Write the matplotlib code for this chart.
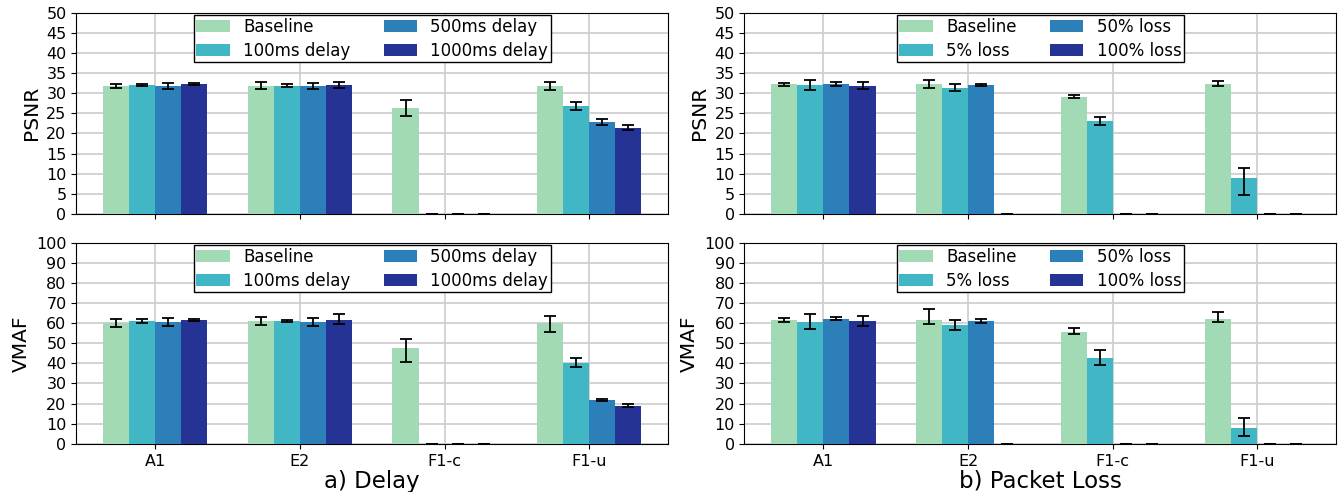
import numpy as np
import matplotlib.pyplot as plt

# categorias e series
categorias = ["A1", "E2", "F1-c", "F1-u"]
cores = ["#a1dab4", "#41b6c4", "#2c7fb8", "#253494"]

series_delay = ["Baseline", "100ms delay", "500ms delay", "1000ms delay"]
series_loss = ["Baseline", "5% loss", "50% loss", "100% loss"]

# PSNR - delay (linhas = series, colunas = categorias)
psnr_delay = [
    [31.8, 31.9, 26.4, 31.8],
    [32.1, 31.9, 0.0, 26.8],
    [31.8, 31.8, 0.0, 22.9],
    [32.3, 32.1, 0.0, 21.4],
]
psnr_delay_lo = [
    [0.6, 0.8, 2.0, 0.9],
    [0.3, 0.4, 0.0, 0.9],
    [0.7, 0.8, 0.0, 0.7],
    [0.2, 0.7, 0.0, 0.6],
]
psnr_delay_hi = psnr_delay_lo

# VMAF - delay
vmaf_delay = [
    [60.0, 61.1, 47.8, 60.0],
    [61.2, 61.2, 0.0, 40.3],
    [60.6, 60.6, 0.0, 21.9],
    [61.8, 61.8, 0.0, 19.0],
]
vmaf_delay_lo = [
    [1.9, 1.9, 7.3, 4.6],
    [1.0, 0.5, 0.0, 2.3],
    [1.9, 1.8, 0.0, 0.4],
    [0.5, 2.0, 0.0, 0.6],
]
vmaf_delay_hi = [
    [1.9, 1.9, 4.3, 3.6],
    [1.0, 0.5, 0.0, 2.3],
    [1.9, 1.8, 0.0, 0.4],
    [0.5, 2.6, 0.0, 0.6],
]

# PSNR - perda de pacotes
psnr_loss = [
    [32.2, 32.4, 29.1, 32.4],
    [32.1, 31.4, 23.1, 9.0],
    [32.4, 32.1, 0.0, 0.0],
    [31.9, 0.0, 0.0, 0.0],
]
psnr_loss_lo = [
    [0.4, 1.0, 0.4, 0.6],
    [1.2, 0.9, 0.9, 4.3],
    [0.5, 0.3, 0.0, 0.0],
    [0.9, 0.0, 0.0, 0.0],
]
psnr_loss_hi = [
    [0.4, 1.0, 0.4, 0.6],
    [1.2, 0.9, 0.9, 2.5],
    [0.5, 0.3, 0.0, 0.0],
    [0.9, 0.0, 0.0, 0.0],
]

# VMAF - perda de pacotes
vmaf_loss = [
    [61.6, 61.8, 55.8, 61.9],
    [60.8, 59.2, 42.9, 8.1],
    [62.2, 61.2, 0.0, 0.0],
    [61.2, 0.0, 0.0, 0.0],
]
vmaf_loss_lo = [
    [0.8, 2.2, 1.2, 1.2],
    [3.7, 2.8, 3.8, 4.3],
    [0.8, 0.9, 0.0, 0.0],
    [2.6, 0.0, 0.0, 0.0],
]
vmaf_loss_hi = [
    [0.8, 5.4, 1.6, 3.5],
    [3.7, 2.6, 3.9, 4.5],
    [0.8, 0.9, 0.0, 0.0],
    [2.6, 0.0, 0.0, 0.0],
]

fig, axs = plt.subplots(2, 2, figsize=(13.39, 4.92), dpi=100)
fig.subplots_adjust(left=0.057, right=0.998, top=0.974, bottom=0.098,
                    wspace=0.129, hspace=0.144)

x = np.arange(len(categorias))
largura = 0.18


def desenhar(ax, valores, lo, hi, nomes, ymax, passo, ylabel):
    for i in range(4):
        pos = x + (i - 1.5) * largura
        ax.bar(pos, valores[i], largura, color=cores[i], label=nomes[i],
               yerr=[lo[i], hi[i]], capsize=4,
               error_kw=dict(ecolor="black", elinewidth=1.3, capthick=1.3),
               zorder=3)
    ax.set_ylim(0, ymax)
    ax.set_yticks(np.arange(0, ymax + 1, passo))
    ax.set_xticks(x)
    ax.grid(True, color="#cccccc", linewidth=1.2, zorder=0)
    ax.set_axisbelow(True)
    ax.set_ylabel(ylabel, fontsize=14.5)
    ax.tick_params(labelsize=11.5)
    leg = ax.legend(ncol=2, loc="upper center", fontsize=12, fancybox=False,
                    framealpha=1, edgecolor="black", borderaxespad=0.15,
                    borderpad=0.15, labelspacing=0.35, columnspacing=2.0,
                    handlelength=2.0, handletextpad=0.8)
    leg.get_frame().set_linewidth(1.0)


desenhar(axs[0, 0], psnr_delay, psnr_delay_lo, psnr_delay_hi, series_delay, 50, 5, "PSNR")
desenhar(axs[1, 0], vmaf_delay, vmaf_delay_lo, vmaf_delay_hi, series_delay, 100, 10, "VMAF")
desenhar(axs[0, 1], psnr_loss, psnr_loss_lo, psnr_loss_hi, series_loss, 50, 5, "PSNR")
desenhar(axs[1, 1], vmaf_loss, vmaf_loss_lo, vmaf_loss_hi, series_loss, 100, 10, "VMAF")

for ax in axs[0]:
    ax.set_xticklabels([])
for ax in axs[1]:
    ax.set_xticklabels(categorias)

axs[1, 0].set_xlabel("a) Delay", fontsize=16.5, labelpad=1)
axs[1, 1].set_xlabel("b) Packet Loss", fontsize=16.5, labelpad=1)

plt.savefig("out.png")
